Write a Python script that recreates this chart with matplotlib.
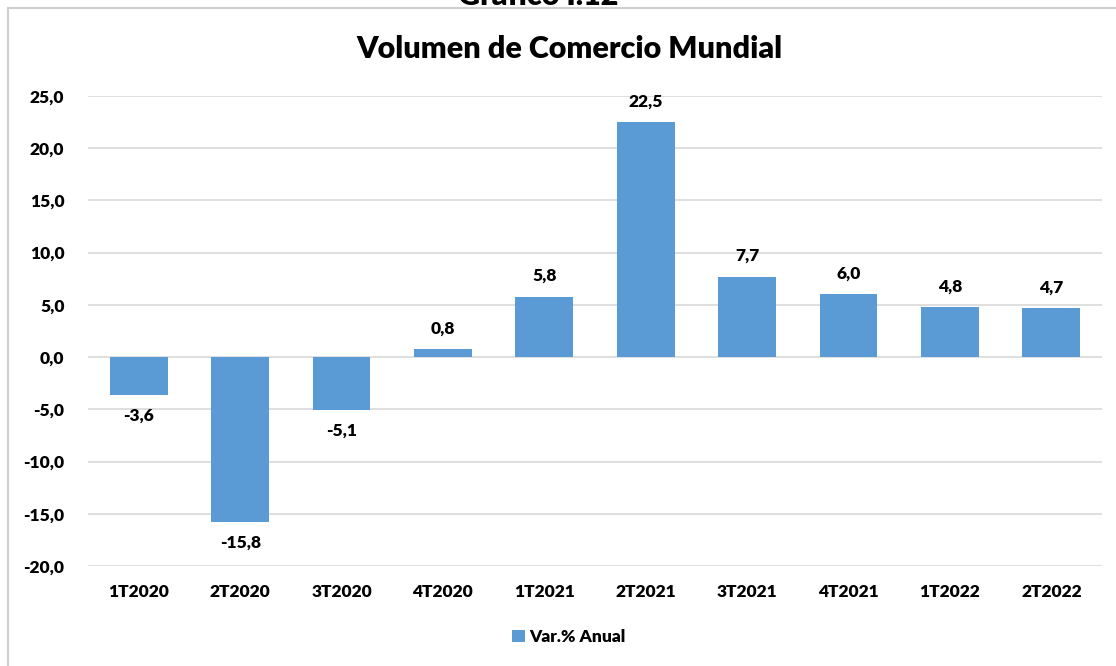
import numpy as np
import matplotlib.pyplot as plt
from matplotlib.patches import Rectangle

# Datos
trimestres = ['1T2020', '2T2020', '3T2020', '4T2020', '1T2021',
              '2T2021', '3T2021', '4T2021', '1T2022', '2T2022']
var_anual = [-3.6, -15.8, -5.1, 0.8, 5.8, 22.5, 7.7, 6.0, 4.8, 4.7]
yticks = [-20, -15, -10, -5, 0, 5, 10, 15, 20, 25]

plt.rcParams['font.family'] = ['Lato', 'DejaVu Sans']
color = '#5B9BD5'
peso = 'heavy'

fig = plt.figure(figsize=(11.16, 6.66), dpi=100)
ax = fig.add_axes([0.0789, 0.150, 0.9086, 0.706])

x = np.arange(len(trimestres))
bars = ax.bar(x, var_anual, width=0.57, color=color, label='Var.% Anual', zorder=3)

for xi, v in zip(x, var_anual):
    lbl = f'{v:.1f}'.replace('.', ',')
    if v >= 0:
        ax.text(xi, v + 1.2, lbl, ha='center', va='bottom', fontsize=12.5, fontweight=peso)
    else:
        ax.text(xi, v - 1.2, lbl, ha='center', va='top', fontsize=12.5, fontweight=peso)

ax.set_xlim(-0.5, len(trimestres) - 0.5)
ax.set_ylim(-20, 25)
ax.set_yticks(yticks)
ax.set_yticklabels([f'{t:.1f}'.replace('.', ',') for t in yticks],
                   fontsize=12.5, fontweight=peso)
ax.set_xticks(x)
ax.set_xticklabels(trimestres, fontsize=12.5, fontweight=peso)
ax.tick_params(axis='both', length=0)
ax.tick_params(axis='x', pad=13)
ax.tick_params(axis='y', pad=17)
ax.grid(axis='y', color='#d9d9d9', linewidth=1.2, zorder=0)
for s in ax.spines.values():
    s.set_visible(False)

fig.text(0.51, 0.927, 'Volumen de Comercio Mundial', ha='center', va='center',
         fontsize=22, fontweight=peso)
fig.text(0.482, 1.006, 'Gráfico I.12', ha='center', va='center',
         fontsize=22, fontweight=peso)

# marco del gráfico
fig.patches.append(Rectangle((0.0072, -0.01), 1.0, 0.998, transform=fig.transFigure,
                             fill=False, edgecolor='#d0d0d0', linewidth=1.5))

fig.legend(loc='center', bbox_to_anchor=(0.51, 0.043), frameon=False,
           prop={'size': 12.5, 'weight': peso}, handlelength=0.7, handleheight=0.7,
           handletextpad=0.3)

fig.savefig('out.png')
